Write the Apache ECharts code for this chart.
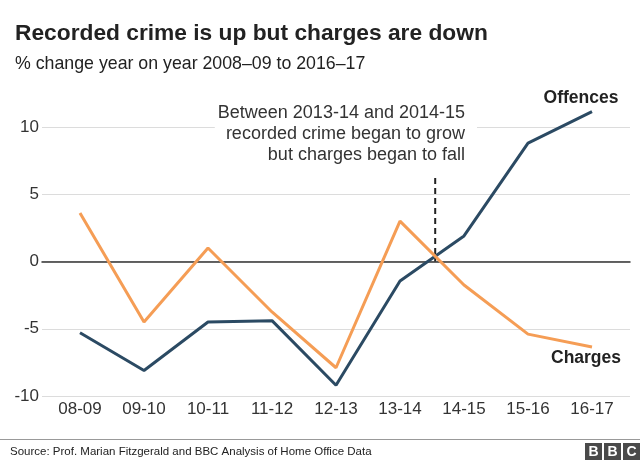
<!DOCTYPE html>
<html>
<head>
<meta charset="utf-8">
<script src="https://cdn.jsdelivr.net/npm/echarts/dist/echarts.min.js"></script>
<style>
html,body{margin:0;padding:0;background:#fff;}
#chart{width:640px;height:463px;}
</style>
</head>
<body>
<div id="chart"></div>
<script>
var categories = ['08-09','09-10','10-11','11-12','12-13','13-14','14-15','15-16','16-17'];
var offences = [-5.3, -8.1, -4.5, -4.4, -9.2, -1.45, 1.9, 8.8, 11.15];
var charges = [3.6, -4.5, 1.0, -3.75, -7.9, 3.0, -1.75, -5.4, -6.35];
var yTicks = [-10, -5, 0, 5, 10];
var dividerX = 5.55;      // between 13-14 and 14-15
var dividerTop = 6.2;
var annotationLines = ['Between 2013-14 and 2014-15', 'recorded crime began to grow', 'but charges began to fall'];

var FONT = 'Liberation Sans, Arial, Helvetica, sans-serif';
var NAVY = '#2b4a63';
var ORANGE = '#f59d55';

function withEndLabel(arr, text, pos, offset, dist) {
  return arr.map(function (v, i) {
    if (i !== arr.length - 1) return v;
    return {
      value: v,
      label: {
        show: true, position: pos, distance: dist, offset: offset,
        formatter: text, fontFamily: FONT, fontWeight: 'bold', fontSize: 17.5, color: '#222'
      }
    };
  });
}

var chart = echarts.init(document.getElementById('chart'), null, {renderer: 'canvas'});
chart.setOption({
  animation: false,
  backgroundColor: '#fff',
  title: [
    {text: 'Recorded crime is up but charges are down', left: 10, top: 17,
     textStyle: {fontFamily: FONT, fontSize: 22.75, fontWeight: 'bold', color: '#222'}},
    {text: '% change year on year 2008\u201309 to 2016\u201317', left: 10, top: 50,
     textStyle: {fontFamily: FONT, fontSize: 17.75, fontWeight: 'normal', color: '#222'}}
  ],
  grid: [
    {left: 48, right: 16, top: 127, bottom: 67, containLabel: false},
    {left: 42, right: 10, top: 127, bottom: 67, containLabel: false}
  ],
  xAxis: [
    {type: 'category', data: categories, boundaryGap: true, gridIndex: 0,
     axisLine: {show: false}, axisTick: {show: false},
     axisLabel: {fontFamily: FONT, fontSize: 17, color: '#333', margin: 5}},
    {type: 'value', min: -0.5, max: 8.5, show: false, gridIndex: 0},
    {type: 'value', gridIndex: 1, min: 0, max: 1,
     axisLine: {show: true, onZero: true, lineStyle: {color: '#333', width: 1.5}},
     axisTick: {show: false}, axisLabel: {show: false}, splitLine: {show: false}}
  ],
  yAxis: [
    {type: 'value', gridIndex: 0, min: yTicks[0], max: yTicks[yTicks.length - 1], interval: 5,
     show: false, splitLine: {show: false}},
    {type: 'value', gridIndex: 1, min: yTicks[0], max: yTicks[yTicks.length - 1], interval: 5,
     axisLine: {show: false}, axisTick: {show: false},
     axisLabel: {fontFamily: FONT, fontSize: 17, color: '#333', margin: 3},
     splitLine: {lineStyle: {color: '#dcdcdc', width: 1}}}
  ],
  series: [
    {
      name: 'Offences', type: 'line', xAxisIndex: 0, yAxisIndex: 0, clip: false,
      data: withEndLabel(offences, 'Offences', 'top', [-11, 0], 4),
      symbol: 'circle', symbolSize: 0, showSymbol: true, showAllSymbol: true,
      lineStyle: {color: NAVY, width: 3}, itemStyle: {color: NAVY}, z: 3
    },
    {
      name: 'Charges', type: 'line', xAxisIndex: 0, yAxisIndex: 0, clip: false,
      data: withEndLabel(charges, 'Charges', 'bottom', [-6, 0], 2),
      symbol: 'circle', symbolSize: 0, showSymbol: true, showAllSymbol: true,
      lineStyle: {color: ORANGE, width: 3}, itemStyle: {color: ORANGE}, z: 3
    },
    {
      name: 'divider', type: 'line', xAxisIndex: 1, yAxisIndex: 0, clip: false,
      data: [[dividerX, dividerTop], [dividerX, 0]],
      symbol: 'none', lineStyle: {color: '#222', width: 2, type: [6, 4]}, z: 2
    }
  ],
  graphic: [
    {type: 'text', x: 477, y: 102.5, z: 10,
     style: {text: annotationLines.join('\n'), fontFamily: FONT, fontSize: 18, lineHeight: 21,
             fill: '#333', align: 'right', verticalAlign: 'top', backgroundColor: '#fff', padding: [0, 12, 0, 3]}},
    {type: 'line', shape: {x1: 0, y1: 439.5, x2: 640, y2: 439.5}, style: {stroke: '#999', lineWidth: 1}},
    {type: 'text', x: 10, y: 452,
     style: {text: 'Source: Prof. Marian Fitzgerald and BBC Analysis of Home Office Data',
             fontFamily: FONT, fontSize: 11.5, fill: '#222', verticalAlign: 'middle'}},
    {type: 'group', x: 585, y: 443, children: ['B', 'B', 'C'].map(function (l, i) {
      return {type: 'group', x: i * 19, children: [
        {type: 'rect', shape: {x: 0, y: 0, width: 17, height: 17}, style: {fill: '#4a4a4a'}},
        {type: 'text', x: 8.5, y: 9, style: {text: l, fontFamily: FONT, fontSize: 14, fontWeight: 'bold',
          fill: '#fff', align: 'center', verticalAlign: 'middle'}}
      ]};
    })}
  ]
});
</script>
</body>
</html>
